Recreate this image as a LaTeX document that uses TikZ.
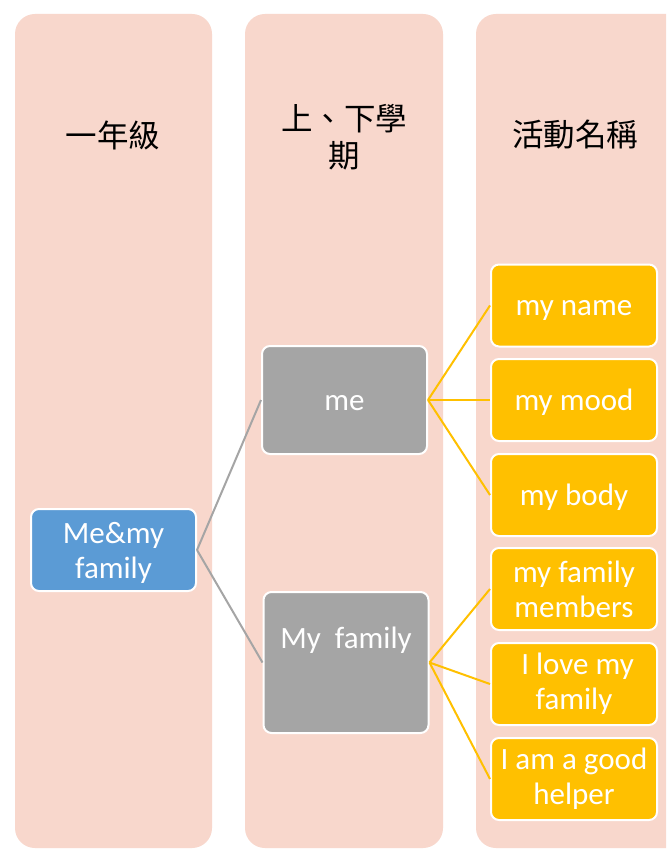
\documentclass[tikz,border=0pt]{standalone}
\usepackage{fontspec}
\setmainfont{Carlito}
\newfontfamily\cjk{Noto Sans CJK TC}
\definecolor{colbg}{HTML}{F8D7CC}
\definecolor{bluefill}{HTML}{5B9BD5}
\definecolor{grayfill}{HTML}{A5A5A5}
\definecolor{yelfill}{HTML}{FFC000}
\begin{document}
\begin{tikzpicture}[x=1pt,y=-1pt,
  column/.style={fill=colbg, draw=none, rounded corners=20pt},
  header/.style={font=\cjk\fontsize{31.5}{37}\selectfont, text=black, align=center},
  boxbase/.style={draw=white, line width=2pt, rounded corners=8pt, text=white,
     font=\fontsize{31}{35}\selectfont, align=center, inner sep=0pt},
  oneline/.style={text height=20pt, text depth=0pt},
  bluebox/.style={boxbase, fill=bluefill, minimum width=165pt, minimum height=82pt},
  graybox/.style={boxbase, fill=grayfill, minimum width=165pt},
  yelbox/.style={boxbase, fill=yelfill, minimum width=166pt, minimum height=82pt},
  gline/.style={draw=grayfill, line width=2pt},
  yline/.style={draw=yelfill, line width=2pt}]
\useasboundingbox (0,0) rectangle (666,850);
\clip (0,0) rectangle (666,850);
\fill[white] (0,0) rectangle (666,850);
% columns
\path[column] (15,14) rectangle (212,848);
\path[column] (245,14) rectangle (443,848);
\path[column] (476,14) rectangle (700,848);
% headers
\node[header] (h1) at (113,135) {一年級};
\node[header] (h2) at (344,137) {上、下學\\期};
\node[header] (h3) at (575,135) {活動名稱};
% nodes
\node[bluebox, text height=63pt, text depth=7pt] (root) at (113.5,550) {Me\&my\\family};
\node[graybox, oneline, minimum height=108pt] (me) at (344.5,400) {me};
\node[graybox, minimum height=141pt, text height=22pt, text depth=50pt] (fam) at (346,662.5) {My\ \ family};
\node[yelbox, oneline] (y1) at (574,305.5) {my name};
\node[yelbox, oneline] (y2) at (574,400) {my mood};
\node[yelbox, oneline] (y3) at (574,495) {my body};
\node[yelbox] (y4) at (574,589) {my family\\members};
\node[yelbox] (y5) at (574,684) {\ I love my\\family};
\node[yelbox] (y6) at (574,779) {I am a good\\helper};
% connectors
\draw[gline] (root.east) -- (me.west);
\draw[gline] (root.east) -- (fam.west);
\draw[yline] (me.east) -- (y1.west);
\draw[yline] (me.east) -- (y2.west);
\draw[yline] (me.east) -- (y3.west);
\draw[yline] (fam.east) -- (y4.west);
\draw[yline] (fam.east) -- (y5.west);
\draw[yline] (fam.east) -- (y6.west);
\end{tikzpicture}
\end{document}
